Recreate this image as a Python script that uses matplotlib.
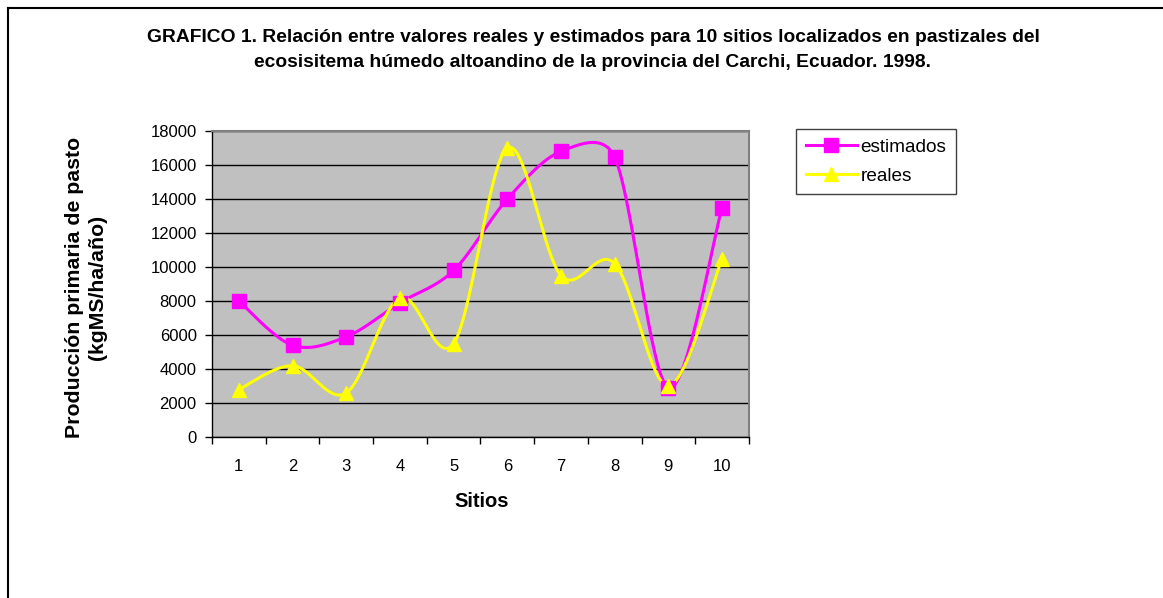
import numpy as np
import matplotlib
matplotlib.use("Agg")
import matplotlib.pyplot as plt
from matplotlib.lines import Line2D

plt.rcParams.update({
    "font.family": ["Liberation Sans", "DejaVu Sans"],
    "font.size": 12,
})

# ----------------------------------------------------------------------
# Data
# ----------------------------------------------------------------------
sitios = np.arange(1, 11)
estimados = [8000, 5400, 5900, 7900, 9800, 14000, 16800, 16450, 2900, 13500]
reales = [2800, 4200, 2600, 8200, 5500, 17000, 9500, 10200, 3000, 10500]
yticks = np.arange(0, 18001, 2000)

MAGENTA = "#FF00FF"
YELLOW = "#FFFF00"
PLOT_BG = "#C0C0C0"


def excel_smooth(ax, x, y, n=40):
    """Bezier smoothing roughly like Excel's 'smoothed line' option,
    computed in display space."""
    pts = ax.transData.transform(np.column_stack([x, y]))
    last = len(pts) - 1
    out = [pts[:1]]
    s = np.linspace(0, 1, n)[1:, None]
    for i in range(last):
        p0 = pts[max(i - 1, 0)]
        p1 = pts[i]
        p2 = pts[i + 1]
        p3 = pts[min(i + 2, last)]
        d12 = np.hypot(*(p2 - p1))
        t1 = (p2 - p0) / 6.0
        t2 = (p3 - p1) / 6.0
        l1 = np.hypot(*t1)
        l2 = np.hypot(*t2)
        if l1 > 0:
            t1 = t1 * min(1.0, 0.5 * d12 / l1)
        if l2 > 0:
            t2 = t2 * min(1.0, 0.5 * d12 / l2)
        c1 = p1 + t1
        c2 = p2 - t2
        seg = ((1 - s) ** 3 * p1 + 3 * (1 - s) ** 2 * s * c1
               + 3 * (1 - s) * s ** 2 * c2 + s ** 3 * p2)
        out.append(seg)
    xy = ax.transData.inverted().transform(np.vstack(out))
    return xy[:, 0], xy[:, 1]


fig = plt.figure(figsize=(11.63, 5.98), dpi=100)
ax = fig.add_axes([0.1823, 0.269, 0.4617, 0.512])
ax.set_facecolor(PLOT_BG)
ax.set_xlim(0.5, 10.5)
ax.set_ylim(0, 18000)

# smoothed lines
for vals, col, mk in [(estimados, MAGENTA, "s"), (reales, YELLOW, "^")]:
    sx, sy = excel_smooth(ax, sitios, vals)
    ax.plot(sx, sy, color=col, lw=2.2, zorder=3)
    ax.plot(sitios, vals, ls="none", marker=mk, ms=10, color=col,
            markeredgecolor=col, zorder=4)

# axes styling
ax.set_yticks(yticks)
ax.set_yticklabels([str(v) for v in yticks], fontsize=12)
ax.set_xticks(sitios)
ax.set_xticklabels([str(v) for v in sitios], fontsize=12)
ax.set_xticks(np.arange(0.5, 11, 1), minor=True)
ax.tick_params(axis="x", which="major", length=0, pad=16)
ax.tick_params(axis="x", which="minor", length=5, width=1, direction="out")
ax.tick_params(axis="y", length=5, width=1, direction="out", pad=6)
ax.yaxis.grid(True, color="black", lw=1)
ax.set_axisbelow(True)
for side in ("left", "bottom"):
    ax.spines[side].set_color("black")
    ax.spines[side].set_linewidth(1)
for side in ("top", "right"):
    ax.spines[side].set_color("#808080")
    ax.spines[side].set_linewidth(1.5)

# legend
handles = [Line2D([], [], color=MAGENTA, lw=2.2, marker="s", ms=10),
           Line2D([], [], color=YELLOW, lw=2.2, marker="^", ms=10)]
leg = ax.legend(handles, ["estimados", "reales"], loc="upper left",
                bbox_to_anchor=(796 / 1163, 1 - 129 / 598),
                bbox_transform=fig.transFigure, borderaxespad=0,
                fancybox=False, framealpha=1, edgecolor="#404040",
                fontsize=13.7, handlelength=2.7, handletextpad=0.2,
                labelspacing=0.62, borderpad=0.5)
leg.get_frame().set_linewidth(1)

# texts
fig.text(593 / 1163, 1 - 50 / 598,
         "GRAFICO 1. Relación entre valores reales y estimados para 10 sitios "
         "localizados en pastizales del\necosisitema húmedo altoandino de la "
         "provincia del Carchi, Ecuador. 1998.",
         ha="center", va="center", fontsize=13.9, fontweight="bold",
         linespacing=1.55)
fig.text(86 / 1163, 1 - 287.5 / 598,
         "Producción primaria de pasto\n(kgMS/ha/año)",
         ha="center", va="center", rotation=90, fontsize=15.3,
         fontweight="bold", linespacing=1.25, multialignment="center")
fig.text(482 / 1163, 1 - 501.5 / 598, "Sitios", ha="center", va="center",
         fontsize=14.5, fontweight="bold")

# outer frame (left and top edges visible)
fig.add_artist(Line2D([8 / 1163, 8 / 1163], [0, 1 - 8 / 598],
                      transform=fig.transFigure, color="black", lw=1.5))
fig.add_artist(Line2D([8 / 1163, 1], [1 - 8 / 598, 1 - 8 / 598],
                      transform=fig.transFigure, color="black", lw=1.5))

fig.savefig("out.png", dpi=100, facecolor="white")
